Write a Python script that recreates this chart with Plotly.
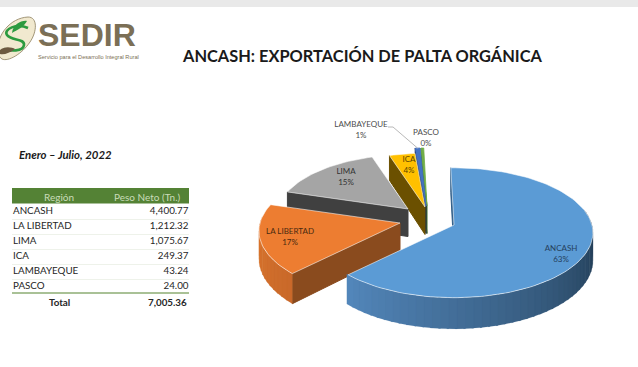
import math
import plotly.graph_objects as go

regions = ["ANCASH", "LA LIBERTAD", "LIMA", "ICA", "LAMBAYEQUE", "PASCO"]
peso = [4400.77, 1212.32, 1075.67, 249.37, 43.24, 24.00]
peso_text = ["4,400.77", "1,212.32", "1,075.67", "249.37", "43.24", "24.00"]
total_text = "7,005.36"
pct_labels = ["63%", "17%", "15%", "4%", "1%", "0%"]
header_labels = ["Región", "Peso Neto (Tn.)"]
table_title = "Enero – Julio, 2022"
chart_title = "ANCASH: EXPORTACIÓN DE PALTA ORGÁNICA"

top_colors = ["#5b9bd5", "#ed7d31", "#a5a5a5", "#ffc000", "#4472c4", "#70ad47"]
face_colors = ["#2f5d88", "#8a4b1e", "#404040", "#6b5000", "#1b2a4d", "#3f6a26"]
rim_from = ["#5387bb", "#dc772f", "#6d6d6d", "#a87f00", "#2c4a80", "#4a7a2e"]
rim_to = ["#1c3347", "#c9692a", "#6d6d6d", "#a87f00", "#2c4a80", "#4a7a2e"]
apex_x = [454, 400, 408, 425, 426, 427]
apex_y = [225, 223, 209, 207, 206, 206]
radius = [0.985, 1, 0.93, 0.92, 1, 1]
label_x = [561, 290, 346, 409, 361, 426]
label_y = [249, 232, 172, 160, 125, 133]
label_colors = ["#25405c", "#4a2a10", "#333333", "#5a4300", "#4d4d4d", "#4d4d4d"]

RX, RY, K, DEPTH, START = 140, 65, 0.121, 27.5, -1.5
FONT = "Lato, Carlito, Calibri, sans-serif"


def project(ax, ay, theta, r=1.0, z=0.0):
    X = r * math.sin(math.radians(theta))
    Y = -r * math.cos(math.radians(theta))
    s = 1 / (1 - K * Y)
    return ax + RX * X * s, ay + RY * Y * s + z * DEPTH * s


def mix(c1, c2, t):
    a = [int(c1[i:i + 2], 16) for i in (1, 3, 5)]
    b = [int(c2[i:i + 2], 16) for i in (1, 3, 5)]
    return "rgb(%d,%d,%d)" % tuple(round(p + (q - p) * t) for p, q in zip(a, b))


def poly(fig, pts, fill, line=None, width=1.0):
    fig.add_trace(go.Scatter(
        x=[p[0] for p in pts] + [pts[0][0]], y=[p[1] for p in pts] + [pts[0][1]],
        mode="lines", fill="toself", fillcolor=fill,
        line=dict(color=line or fill, width=width),
        hoverinfo="skip", showlegend=False))


fig = go.Figure()

total = sum(peso)
angles = [START]
for v in peso:
    angles.append(angles[-1] + v / total * 360)

for i in reversed(range(len(peso))):
    ax, ay, t0, t1, r = apex_x[i], apex_y[i], angles[i], angles[i + 1], radius[i]
    poly(fig, [project(ax, ay, t0, 0), project(ax, ay, t0, r), project(ax, ay, t0, r, 1), project(ax, ay, t0, 0, 1)],
         face_colors[i])
    a0, a1 = max(t0, 75), min(t1, 275)
    if a1 > a0:
        n = max(2, int((a1 - a0) / 3))
        for j in range(n):
            p, q = a0 + (a1 - a0) * j / n, a0 + (a1 - a0) * (j + 1.25) / n
            col = mix(rim_to[i], rim_from[i], (j + .5) / n)
            poly(fig, [project(ax, ay, p, r), project(ax, ay, q, r), project(ax, ay, q, r, 1), project(ax, ay, p, r, 1)],
                 col, None, 0.1)
    n = max(2, int((t1 - t0) / 2))
    pts = [project(ax, ay, 0, 0)] + [project(ax, ay, t0 + (t1 - t0) * j / n, r) for j in range(n + 1)]
    poly(fig, pts, top_colors[i], "rgba(255,255,255,0.7)" if i < 4 else top_colors[i], 0.8)

# leader line for LAMBAYEQUE
mid = (angles[4] + angles[5]) / 2
end = project(apex_x[4], apex_y[4], mid)
fig.add_trace(go.Scatter(x=[388, 393, end[0]], y=[127, 127, end[1]], mode="lines",
                         line=dict(color="#a6a6a6", width=0.8), hoverinfo="skip", showlegend=False))

# slice labels
for name, pct, x, y, c in zip(regions, pct_labels, label_x, label_y, label_colors):
    fig.add_trace(go.Scatter(x=[x, x], y=[y, y + 10.5], mode="text", text=[name, pct],
                             textposition="middle center", textfont=dict(family=FONT, size=8, color=c),
                             hoverinfo="skip", showlegend=False))

# table
ROW0, PITCH = 212, 15
table_font = dict(family=FONT, size=9.8, color="#262626")
row_y = [ROW0 + PITCH * k for k in range(len(regions))]
total_y = ROW0 + PITCH * len(regions)
fig.add_trace(go.Scatter(x=[13] * len(regions), y=row_y, mode="text", text=regions, textposition="middle right",
                         textfont=table_font, hoverinfo="skip", showlegend=False))
fig.add_trace(go.Scatter(x=[188.5] * len(regions), y=row_y, mode="text", text=peso_text, textposition="middle left",
                         textfont=table_font, hoverinfo="skip", showlegend=False))

shapes = [
    dict(type="rect", x0=0, x1=638, y0=0, y1=7, fillcolor="#e9e9e9", line_width=0, layer="below"),
    dict(type="rect", x0=12, x1=189, y0=188, y1=203.5, fillcolor="#548235", line_width=0, layer="below"),
    dict(type="line", x0=12, x1=189, y0=293, y1=293, line=dict(color="#a9c196", width=2)),
]
for y in row_y[:-1]:
    shapes.append(dict(type="line", x0=12, x1=189, y0=y + 7.5, y1=y + 7.5,
                       line=dict(color="#eef2ea", width=1), layer="below"))

# logo
leaf = "M 12 33 C 13 24 22 20 27 21 C 24 27 17 30 12 33 Z"
s_path = "M 28 28 C 17 23 3 29 7 35 C 11 41 25 38 24 45 C 23 52 10 51 4 49"
shapes += [
    dict(type="path", path="M -2 50 C -3 35 10 18 28 17 C 38 17 37 32 30 42 C 22 54 8 62 2 59 C 0 58 -2 55 -2 50 Z",
         fillcolor="#f1e9cf", line=dict(color="#8b7d5c", width=0.8)),
    dict(type="path", path=s_path, line=dict(color="#2c9a3f", width=2.6)),
    dict(type="path", path=leaf, fillcolor="#2c9a3f", line_width=0),
    dict(type="path", path="M 0 50 C 4 46 12 47 15 49 C 10 53 4 55 0 54 Z", fillcolor="#6d5a40", line_width=0),
]

annotations = [
    dict(x=36, y=35, text="<b>SEDIR</b>", showarrow=False, xanchor="left", yanchor="middle",
         font=dict(family="Liberation Sans, Arial", size=32, color="#7b6f56")),
    dict(x=36, y=56.5, text="Servicio para el Desarrollo Integral Rural", showarrow=False, xanchor="left",
         yanchor="middle", font=dict(family="Liberation Sans, Arial", size=5.6, color="#7b6f56")),
    dict(x=362, y=55, text="<b>" + chart_title + "</b>", showarrow=False,
         font=dict(family=FONT, size=16.4, color="#1a1a1a")),
    dict(x=17, y=154.5, text="<b><i>" + table_title + "</i></b>", showarrow=False, xanchor="left",
         font=dict(family=FONT, size=11.4, color="#1a1a1a")),
    dict(x=59, y=197, text=header_labels[0], showarrow=False, font=dict(family=FONT, size=10, color="#c9dcb9")),
    dict(x=183, y=197, text=header_labels[1], showarrow=False, xanchor="right",
         font=dict(family=FONT, size=10, color="#c9dcb9")),
    dict(x=59, y=total_y, text="<b>Total</b>", showarrow=False, font=dict(family=FONT, size=9.8, color="#262626")),
    dict(x=188.5, y=total_y, text="<b>" + total_text + "</b>", showarrow=False, xanchor="right",
         font=dict(family=FONT, size=9.8, color="#262626")),
]

fig.update_layout(
    width=638, height=367, autosize=False, margin=dict(l=0, r=0, t=0, b=0),
    paper_bgcolor="white", plot_bgcolor="white", showlegend=False,
    shapes=shapes, annotations=annotations,
    xaxis=dict(range=[0, 638], visible=False, fixedrange=True),
    yaxis=dict(range=[367, 0], visible=False, fixedrange=True),
)

fig.write_html("out.html", config={"displayModeBar": False},
               post_script="document.body.style.margin='0';document.body.style.overflow='hidden';")
